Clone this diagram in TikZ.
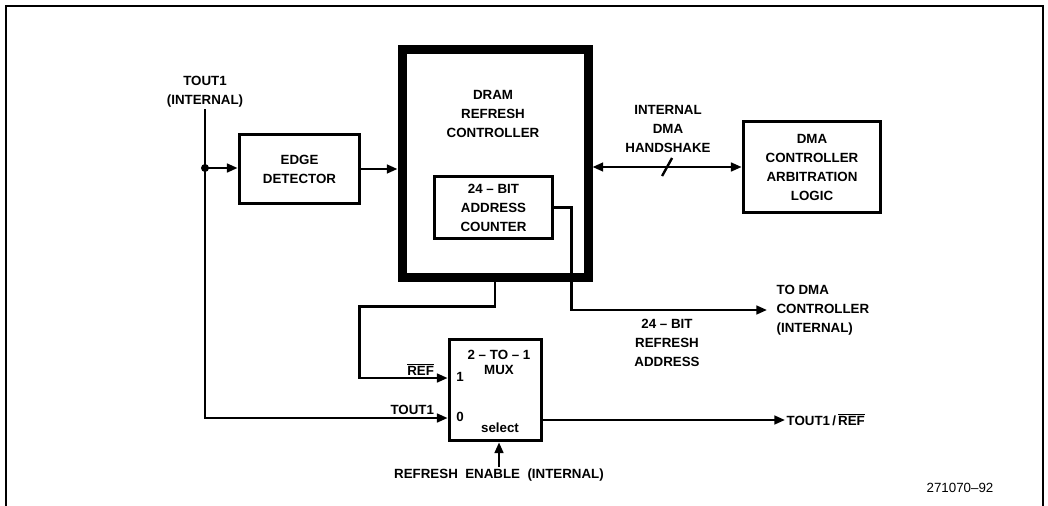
\documentclass[tikz,border=0pt]{standalone}
\usepackage{fontspec}
\setmainfont{Liberation Sans}
\usetikzlibrary{arrows.meta,positioning,calc}

\tikzset{
  blk/.style={draw,line width=2.8pt,inner sep=0pt,align=center},
  lbl/.style={align=center,inner sep=1pt},
  wire/.style={line width=1.8pt},
  sig/.style={wire,-{Triangle[length=8pt,width=6.5pt]}},
}

\begin{document}
\begin{tikzpicture}[x=0.75pt,y=-0.75pt,font=\bfseries\fontsize{10}{14.25}\selectfont]
\useasboundingbox (0,0) rectangle (1048,506);
\draw[line width=1.2pt] (6,506) -- (6,6) -- (1043,6) -- (1043,506);

% blocks
\node[blk,minimum width=90pt,minimum height=51.75pt] (edge) at (299.5,169) {EDGE\\DETECTOR};
\node[blk,line width=6.75pt,minimum width=139.5pt,minimum height=170.25pt] (dram) at (495,163.5) {};
\node[lbl] (dramtxt) at (493,114) {DRAM\\REFRESH\\CONTROLLER};
\node[blk,minimum width=88.5pt,minimum height=46.5pt] (cnt) at (493.5,207.5) {24 -- BIT\\ADDRESS\\COUNTER};
\node[blk,minimum width=102.75pt,minimum height=68.25pt] (dma) at (812,167) {DMA\\CONTROLLER\\ARBITRATION\\LOGIC};
\node[blk,minimum width=69pt,minimum height=75.75pt] (mux) at (495.5,390) {};
\node[lbl] (muxname) at (499,362) {2 -- TO -- 1\\[-3pt]MUX};
\node[lbl] (muxone) at (460,377) {1};
\node[lbl] (muxzero) at (460,417) {0};
\node[lbl] (muxsel) at (500,428) {select};

% TOUT1 input and edge detector
\node[lbl] (toutlbl) at (205,92) {TOUT1\\(INTERNAL)};
\coordinate (tap) at (205,168);
\draw[wire] (toutlbl.south) -- (tap);
\fill (tap) circle (3pt);
\draw[sig] (tap) -- (tap -| edge.west);
\draw[sig] (edge.east) -- (edge.east -| dram.west);

% handshake
\draw[wire,{Triangle[length=8pt,width=6.5pt]}-{Triangle[length=8pt,width=6.5pt]}]
  (dma.west -| dram.east) -- coordinate[pos=0.5] (hs) (dma.west);
\draw[wire] ($(hs)+(-5,9)$) -- ($(hs)+(5,-9)$);
\node[lbl] (hslbl) at (668,129) {INTERNAL\\DMA\\HANDSHAKE};

% refresh address out
\coordinate (toDMA) at (767,310);
\draw[sig] (cnt.east) -- ++(17,0) |- (toDMA);
\node[lbl,align=left,right=6pt of toDMA] (todmalbl) {TO DMA\\CONTROLLER\\(INTERNAL)};
\node[lbl] (addrlbl) at (667,343) {24 -- BIT\\REFRESH\\ADDRESS};

% mux inputs
\coordinate (in1) at ($(mux.west)+(0,-12)$);
\coordinate (in0) at ($(mux.west)+(0,28)$);
\draw[sig] (dram.south) -- ++(0,25) -| ($(in1)+(-88,0)$) -- (in1);
\node[lbl,above left=1pt and 9pt of in1] (reflbl) {$\overline{\mbox{REF}}$};
\draw[sig] (tap) |- (in0);
\node[lbl,above left=1pt and 9pt of in0] (t1lbl) {TOUT1};

% mux output and select
\coordinate (out) at (785,420);
\draw[sig] (out -| mux.east) -- (out);
\node[lbl,right=0pt of out] (outlbl) {TOUT1\,/\,$\overline{\mbox{REF}}$};
\node[lbl] (refen) at (499,475) {REFRESH\ \ ENABLE\ \ (INTERNAL)};
\draw[sig] (refen.north) -- (refen.north |- mux.south);

\node[lbl,font=\mdseries\fontsize{10}{12}\selectfont] (figno) at (960,488) {271070--92};
\end{tikzpicture}
\end{document}
